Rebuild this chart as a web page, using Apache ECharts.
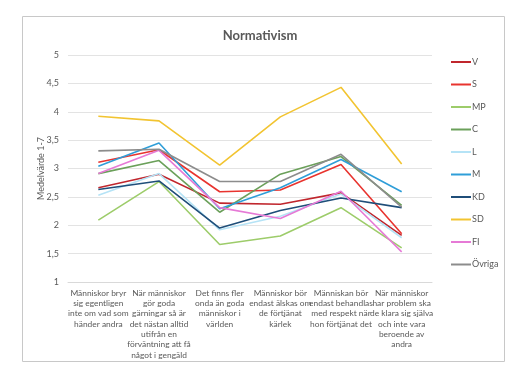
<!DOCTYPE html>
<html lang="sv">
<head>
    <meta charset="UTF-8">
    <title>Normativism</title>
    <script src="https://cdn.jsdelivr.net/npm/echarts@6/dist/echarts.min.js"></script>
    <style>
        html, body { margin: 0; padding: 0; background: #fff; }
        #chart { width: 520px; height: 377px; }
    </style>
</head>
<body>
    <div id="chart"></div>
    <script>
        // kategorier (påståenden)
        var categories = [
            'Människor bryr\nsig egentligen\ninte om vad som\nhänder andra',
            'När människor\ngör goda\ngärningar så är\ndet nästan alltid\nutifrån en\nförväntning att få\nnågot i gengäld',
            'Det finns fler\nonda än goda\nmänniskor i\nvärlden',
            'Människor bör\nendast älskas om\nde förtjänat\nkärlek',
            'Människan bör\nendast behandlas\nmed respekt när\nhon förtjänat det',
            'När människor\nhar problem ska\nde klara sig själva\noch inte vara\nberoende av\nandra'
        ];

        var partyNames = ['V', 'S', 'MP', 'C', 'L', 'M', 'KD', 'SD', 'FI', 'Övriga'];
        var partyColors = ['#C0262D', '#E8342F', '#9DCC6A', '#6BA05A', '#B5E3F6', '#2F9ED8', '#1F4E79', '#F2C431', '#E67AD6', '#8C8C8C'];

        var V      = [2.66, 2.90, 2.39, 2.37, 2.57, 1.82];
        var S      = [3.11, 3.33, 2.59, 2.62, 3.07, 1.85];
        var MP     = [2.09, 2.77, 1.66, 1.81, 2.31, 1.60];
        var C      = [2.91, 3.14, 2.23, 2.90, 3.21, 2.35];
        var L      = [2.53, 2.91, 1.92, 2.16, 2.55, 1.78];
        var M      = [3.04, 3.45, 2.29, 2.66, 3.16, 2.59];
        var KD     = [2.63, 2.78, 1.95, 2.26, 2.48, 2.31];
        var SD     = [3.92, 3.84, 3.06, 3.91, 4.43, 3.08];
        var FI     = [2.91, 3.32, 2.31, 2.12, 2.60, 1.53];
        var Ovriga = [3.31, 3.34, 2.77, 2.77, 3.25, 2.32];

        var partyValues = [V, S, MP, C, L, M, KD, SD, FI, Ovriga];

        var series = [];
        for (var i = 0; i < partyNames.length; i++) {
            series.push({
                name: partyNames[i],
                type: 'line',
                data: partyValues[i],
                showSymbol: false,
                symbol: 'none',
                lineStyle: { width: 1.6, color: partyColors[i] },
                itemStyle: { color: partyColors[i] },
                animation: false
            });
        }

        var myChart = echarts.init(document.getElementById('chart'));
        myChart.setOption({
            animation: false,
            textStyle: { fontFamily: 'Lato, Liberation Sans, sans-serif' },
            graphic: [{
                type: 'rect',
                shape: { x: 22.5, y: 16.5, width: 482, height: 345 },
                style: { fill: 'none', stroke: '#C8C8C8', lineWidth: 1 },
                silent: true
            }],
            title: {
                text: 'Normativism',
                left: 'center',
                top: 24,
                textStyle: { fontSize: 13, fontWeight: 'bold', color: '#595959', fontFamily: 'Lato' }
            },
            legend: {
                orient: 'vertical',
                left: 446,
                top: 51,
                icon: 'rect',
                itemWidth: 20,
                itemHeight: 2,
                itemGap: 10.5,
                data: partyNames,
                textStyle: { fontSize: 9, color: '#595959', lineHeight: 12, padding: [0, 0, 0, -4] }
            },
            grid: { left: 68, right: 88, top: 55, bottom: 95 },
            xAxis: {
                type: 'category',
                data: categories,
                boundaryGap: true,
                axisLine: { lineStyle: { color: '#D9D9D9' } },
                axisTick: { show: false },
                axisLabel: {
                    interval: 0,
                    fontSize: 8.4,
                    lineHeight: 10.3,
                    color: '#595959',
                    margin: 6
                }
            },
            yAxis: {
                type: 'value',
                min: 1,
                max: 5,
                interval: 0.5,
                name: 'Medelvärde 1-7',
                nameLocation: 'middle',
                nameGap: 22,
                nameMoveOverlap: false,
                nameTextStyle: { fontSize: 9, color: '#595959' },
                axisLine: { show: false },
                axisTick: { show: false },
                splitLine: { lineStyle: { color: '#E3E3E3' } },
                axisLabel: {
                    fontSize: 9,
                    color: '#595959',
                    margin: 9,
                    formatter: function (v) { return String(v).replace('.', ','); }
                }
            },
            series: series
        });
    </script>
</body>
</html>
